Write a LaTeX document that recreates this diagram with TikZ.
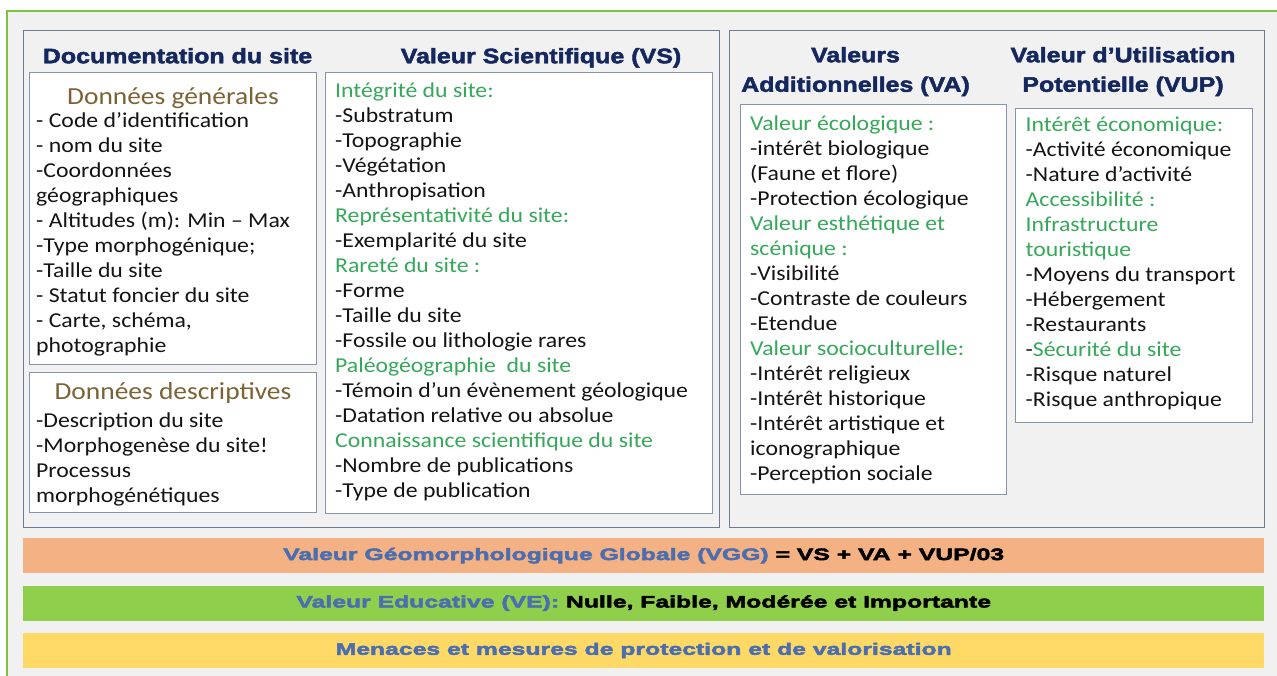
\documentclass[tikz,border=0pt]{standalone}
\usepackage{fontspec}
\setmainfont[FakeStretch=1.12]{Carlito}
\newfontfamily\headfont[FakeStretch=1.19,FakeBold=2.2]{Liberation Sans}
\newfontfamily\barfont[FakeStretch=1.5,FakeBold=3]{Liberation Sans}
\usepackage{xcolor}
\usepackage{tikz}
\usetikzlibrary{positioning}

\definecolor{framegreen}{HTML}{7DC242}
\definecolor{pagegray}{HTML}{F1F1F1}
\definecolor{panelline}{HTML}{6E7C96}
\definecolor{boxline}{HTML}{8593AD}
\definecolor{headnavy}{HTML}{14275E}
\definecolor{subbrown}{HTML}{7B6334}
\definecolor{critgreen}{HTML}{36A85A}
\definecolor{barblue}{HTML}{4A6EB0}
\definecolor{vggorange}{HTML}{F4B183}
\definecolor{vegreen}{HTML}{8FCF4C}
\definecolor{menyellow}{HTML}{FFD966}

\newcommand{\crit}[1]{\textcolor{critgreen}{#1}}

\begin{document}
\begin{tikzpicture}[x=1pt, y=-1pt, node distance=12pt]
\tikzstyle{panel} = [rectangle, draw=panelline, line width=1.4pt, fill=pagegray, anchor=north west, inner sep=0pt]
\tikzstyle{card} = [rectangle, draw=boxline, line width=1.2pt, fill=white, anchor=north west, inner sep=0pt]
\tikzstyle{heading} = [anchor=north, align=center, inner sep=0pt, text=headnavy, font=\headfont\bfseries\fontsize{21}{29.5}\selectfont]
\tikzstyle{subtitle} = [anchor=base, inner sep=0pt, text=subbrown, font=\fontsize{24.5}{28}\selectfont]
\tikzstyle{bodytext} = [align=left, inner sep=0pt, text=black!92, font=\fontsize{21.2}{25}\selectfont]
\tikzstyle{bar} = [rectangle, inner sep=0pt, minimum width=1241pt, minimum height=35pt, font=\barfont\bfseries\fontsize{16.5}{20}\selectfont]

\useasboundingbox (0,0) rectangle (1277,675);
\clip (0,0) rectangle (1277,675);
\fill[white] (0,0) rectangle (1277,675);
\draw[framegreen, line width=2.5pt, fill=pagegray] (7,11) rectangle (1300,700);

% two groups of criteria
\node (docpanel) [panel, minimum width=696pt, minimum height=497pt] at (23,30) {};
\node (vapanel) [panel, minimum width=535pt, minimum height=497pt] at (729,30) {};

\node (dochead) [heading] at (177.5,42.4) {\strut Documentation du site};
\node (vshead) [heading] at (541,42.4) {\strut Valeur Scientifique (VS)};
\node (vahead) [heading] at (855.5,41.4) {\strut Valeurs\\Additionnelles (VA)};
\node (vuphead) [heading] at (1123,41.4) {\strut Valeur d’Utilisation\\Potentielle (VUP)};

% boxes
\node (genbox) [card, minimum width=287pt, minimum height=292pt] at (29,72) {};
\node (descbox) [card, minimum width=287pt, minimum height=140pt] at (29,372) {};
\node (vsbox) [card, minimum width=387pt, minimum height=441pt] at (325,72) {};
\node (vabox) [card, minimum width=266pt, minimum height=390pt] at (740,104) {};
\node (vupbox) [card, minimum width=237pt, minimum height=314pt] at (1015,108) {};

\node (gentitle) [subtitle] at (173,104) {Données générales};
\node (genlist) [bodytext, below right=37.5pt and 7pt of genbox.north west] {\strut- Code d’identification\\- nom du site\\-Coordonnées\\géographiques\\- Altitudes (m): Min – Max\\-Type morphogénique;\\-Taille du site\\- Statut foncier du site\\- Carte, schéma,\\photographie};

\node (desctitle) [subtitle] at (173,399) {Données descriptives};
\node (desclist) [bodytext, below right=37.5pt and 7pt of descbox.north west] {\strut-Description du site\\-Morphogenèse du site!\\Processus\\morphogénétiques};

\node (vslist) [bodytext, below right=7.5pt and 10pt of vsbox.north west] {\strut\crit{Intégrité du site:}\\-Substratum\\-Topographie\\-Végétation\\-Anthropisation\\\crit{Représentativité du site:}\\-Exemplarité du site\\\crit{Rareté du site :}\\-Forme\\-Taille du site\\-Fossile ou lithologie rares\\\crit{Paléogéographie\ \ du site}\\-Témoin d’un évènement géologique\\-Datation relative ou absolue\\\crit{Connaissance scientifique du site}\\-Nombre de publications\\-Type de publication};

\node (valist) [bodytext, below right=8.5pt and 10pt of vabox.north west] {\strut\crit{Valeur écologique :}\\-intérêt biologique\\(Faune et flore)\\-Protection écologique\\\crit{Valeur esthétique et}\\\crit{scénique :}\\-Visibilité\\-Contraste de couleurs\\-Etendue\\\crit{Valeur socioculturelle:}\\-Intérêt religieux\\-Intérêt historique\\-Intérêt artistique et\\iconographique\\-Perception sociale};

\node (vuplist) [bodytext, below right=5.5pt and 10.5pt of vupbox.north west] {\strut\crit{Intérêt économique:}\\-Activité économique\\-Nature d’activité\\\crit{Accessibilité :}\\\crit{Infrastructure}\\\crit{touristique}\\-Moyens du transport\\-Hébergement\\-Restaurants\\-\crit{Sécurité du site}\\-Risque naturel\\-Risque anthropique};

% synthesis bars
\node (vggbar) [bar, fill=vggorange, anchor=north west] at (23,538) {\textcolor{barblue}{Valeur Géomorphologique Globale (VGG)} = VS + VA + VUP/03};
\node (vebar) [bar, fill=vegreen, below=of vggbar] {\textcolor{barblue}{Valeur Educative (VE):} Nulle, Faible, Modérée et Importante};
\node (menbar) [bar, fill=menyellow, below=of vebar] {\textcolor{barblue}{Menaces et mesures de protection et de valorisation}};
\end{tikzpicture}
\end{document}
